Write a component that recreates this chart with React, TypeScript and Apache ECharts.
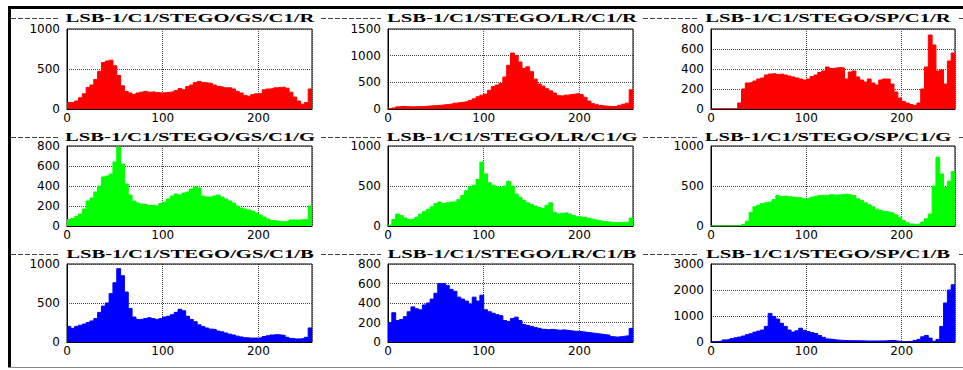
import React, { useEffect, useRef } from "react";
import * as echarts from "echarts";

// Histogram bin width (pixel-value units); each array holds 64 bins covering 0..256
const BIN = 4;
const X_MAX = 256;

const titles = [
  "LSB-1/C1/STEGO/GS/C1/R", "LSB-1/C1/STEGO/LR/C1/R", "LSB-1/C1/STEGO/SP/C1/R",
  "LSB-1/C1/STEGO/GS/C1/G", "LSB-1/C1/STEGO/LR/C1/G", "LSB-1/C1/STEGO/SP/C1/G",
  "LSB-1/C1/STEGO/GS/C1/B", "LSB-1/C1/STEGO/LR/C1/B", "LSB-1/C1/STEGO/SP/C1/B",
];

const gsR = [80, 80, 100, 140, 190, 270, 300, 370, 470, 580, 600, 610, 540, 420, 290, 220,
  200, 180, 200, 210, 220, 210, 215, 205, 200, 205, 210, 215, 230, 255, 240, 280,
  300, 330, 345, 330, 325, 320, 300, 280, 275, 265, 265, 250, 220, 200, 170, 160,
  180, 190, 195, 240, 250, 255, 265, 270, 275, 260, 210, 150, 100, 60, 80, 250];
const lrR = [5, 20, 40, 50, 45, 40, 40, 45, 45, 50, 55, 60, 65, 70, 80, 85,
  95, 110, 120, 130, 140, 160, 190, 230, 260, 280, 350, 420, 450, 480, 600, 820,
  1050, 1000, 880, 760, 790, 700, 560, 470, 430, 380, 340, 300, 250, 240, 260, 270,
  280, 290, 270, 220, 150, 100, 80, 65, 55, 50, 45, 50, 70, 90, 110, 360];
const spR = [0, 0, 0, 0, 0, 0, 0, 60, 200, 260, 265, 280, 300, 310, 340, 350,
  355, 345, 350, 340, 330, 320, 310, 300, 290, 300, 325, 340, 365, 380, 420, 405,
  410, 415, 410, 300, 370, 380, 320, 290, 270, 300, 260, 240, 290, 300, 300, 250,
  170, 110, 75, 60, 45, 35, 60, 200, 420, 740, 640, 380, 390, 250, 480, 560];
const gsG = [65, 75, 95, 120, 170, 250, 280, 340, 400, 490, 500, 520, 640, 790, 620, 420,
  310, 250, 230, 220, 215, 205, 210, 200, 225, 240, 270, 300, 320, 310, 330, 340,
  370, 390, 380, 300, 290, 290, 300, 310, 290, 270, 250, 230, 200, 180, 170, 160,
  150, 130, 110, 90, 70, 55, 50, 45, 45, 50, 60, 60, 60, 65, 60, 200];
const lrG = [10, 80, 150, 130, 100, 80, 80, 110, 150, 180, 210, 240, 280, 300, 280, 290,
  300, 300, 330, 380, 440, 490, 510, 580, 800, 650, 540, 510, 490, 480, 500, 560,
  500, 400, 360, 320, 290, 270, 250, 230, 220, 260, 290, 170, 150, 160, 165, 150,
  130, 115, 110, 110, 95, 85, 75, 65, 55, 50, 45, 40, 45, 45, 50, 100];
const spG = [0, 0, 0, 0, 0, 0, 0, 5, 20, 60, 170, 240, 260, 280, 290, 300,
  330, 380, 370, 375, 365, 360, 355, 350, 340, 345, 360, 370, 380, 385, 380, 390,
  385, 390, 395, 400, 390, 380, 340, 320, 290, 265, 240, 210, 195, 180, 175, 165,
  140, 110, 70, 40, 25, 20, 25, 50, 90, 150, 500, 860, 650, 480, 560, 680];
const gsB = [200, 175, 200, 215, 230, 250, 270, 300, 380, 460, 500, 620, 760, 940, 850, 640,
  430, 320, 290, 290, 300, 310, 300, 290, 300, 320, 330, 350, 380, 420, 400, 330,
  290, 260, 220, 200, 180, 165, 160, 140, 130, 115, 100, 90, 75, 65, 55, 50,
  50, 50, 55, 70, 80, 90, 95, 90, 85, 60, 45, 40, 40, 45, 60, 180];
const lrB = [200, 300, 220, 230, 260, 310, 360, 340, 330, 380, 400, 440, 500, 600, 600, 580,
  540, 520, 460, 440, 420, 390, 460, 420, 480, 330, 310, 295, 280, 270, 220, 210,
  240, 255, 220, 180, 170, 160, 150, 140, 130, 125, 130, 125, 120, 125, 120, 115,
  110, 110, 105, 100, 95, 90, 85, 80, 75, 70, 55, 50, 55, 60, 65, 140];
const spB = [10, 20, 40, 80, 100, 130, 160, 190, 230, 280, 320, 380, 420, 460, 600, 1100,
  980, 880, 720, 600, 460, 380, 430, 530, 450, 400, 360, 330, 250, 180, 120, 100,
  80, 70, 60, 55, 50, 50, 45, 45, 40, 40, 40, 40, 40, 45, 55, 60,
  40, 20, 15, 20, 30, 60, 100, 200, 250, 150, 30, 100, 600, 1500, 2000, 2200];

const seriesValues = [gsR, lrR, spR, gsG, lrG, spG, gsB, lrB, spB];
const yMaxes = [1000, 1500, 800, 800, 1000, 1000, 1000, 800, 3000];
const yIntervals = [500, 500, 200, 200, 500, 500, 500, 200, 1000];
const xTicks = 100;
const rowColors = ["#ff0000", "#00ff00", "#0000ff"];

// layout (pixels)
const colLeft = [67, 388, 711];
const colWidth = [245, 245, 244];
const rowTop = [29, 146, 264];
const rowHeight = [80, 80, 78];
const titleY = [18, 137, 254];
const titleCX = [190, 512, 828];
const TITLE_HALF = 128;

function stepData(vals: number[]) {
  const d: number[][] = vals.map((v, i) => [i * BIN, v]);
  d.push([vals.length * BIN, vals[vals.length - 1]]);
  return d;
}

export default function App() {
  const ref = useRef<HTMLDivElement>(null);
  useEffect(() => {
    if (!ref.current) return;
    const chart = echarts.init(ref.current, undefined, { renderer: "svg" });
    const grids: any[] = [];
    const xAxes: any[] = [];
    const yAxes: any[] = [];
    const series: any[] = [];
    const graphics: any[] = [];
    const axisFont = {
      fontFamily: "DejaVu Sans", fontSize: 12, color: "#000",
      formatter: (v: number) => String(v),
    };
    for (let k = 0; k < 9; k++) {
      const r = Math.floor(k / 3);
      const c = k % 3;
      grids.push({
        left: colLeft[c], top: rowTop[r], width: colWidth[c], height: rowHeight[r],
        show: true, borderColor: "#000", borderWidth: 1, backgroundColor: "#fff",
      });
      xAxes.push({
        type: "value", gridIndex: k, min: 0, max: X_MAX, interval: xTicks,
        axisLine: { show: true, lineStyle: { color: "#000", width: 1 } },
        axisTick: { show: false },
        axisLabel: { ...axisFont, margin: 3, showMaxLabel: false },
        splitLine: { show: true, lineStyle: { type: "dotted", color: "#444", width: 1 } },
      });
      yAxes.push({
        type: "value", gridIndex: k, min: 0, max: yMaxes[k], interval: yIntervals[k],
        axisLine: { show: true, lineStyle: { color: "#000", width: 1 } },
        axisTick: { show: false },
        axisLabel: { ...axisFont, margin: 7 },
        splitLine: { show: true, lineStyle: { type: "dotted", color: "#444", width: 1 } },
      });
      series.push({
        type: "line", xAxisIndex: k, yAxisIndex: k, step: "end", symbol: "none",
        data: stepData(seriesValues[k]),
        lineStyle: { color: rowColors[r], width: 1 },
        areaStyle: { color: rowColors[r], opacity: 1 },
        itemStyle: { color: rowColors[r] },
        clip: true,
      });
      graphics.push({
        type: "text", x: titleCX[c], y: titleY[r], scaleX: 1.72,
        style: {
          text: titles[k], font: 'bold 12px "Liberation Serif"', fill: "#000",
          align: "center", verticalAlign: "middle",
        },
        z: 10,
      });
    }
    // separator lines between titles
    for (let r = 0; r < 3; r++) {
      const xs = [11];
      for (let c = 0; c < 3; c++) {
        xs.push(titleCX[c] - TITLE_HALF - 3);
        xs.push(titleCX[c] + TITLE_HALF + 3);
      }
      xs.push(963);
      for (let s = 0; s < xs.length; s += 2) {
        if (xs[s + 1] > xs[s]) {
          graphics.push({
            type: "line",
            shape: { x1: xs[s], y1: titleY[r] + 0.5, x2: xs[s + 1], y2: titleY[r] + 0.5 },
            style: { stroke: "#444", lineWidth: 1, lineDash: [5, 2] },
          });
        }
      }
    }
    // outer frame
    graphics.push({ type: "rect", shape: { x: 8, y: 6, width: 955, height: 3 }, style: { fill: "#000" } });
    graphics.push({ type: "rect", shape: { x: 8, y: 6, width: 3, height: 362 }, style: { fill: "#000" } });
    graphics.push({ type: "rect", shape: { x: 8, y: 367, width: 955, height: 1 }, style: { fill: "#888" } });

    chart.setOption({
      animation: false,
      backgroundColor: "#fff",
      grid: grids,
      xAxis: xAxes,
      yAxis: yAxes,
      series,
      graphic: graphics,
    });
    return () => chart.dispose();
  }, []);
  return (
    <div
      ref={ref}
      style={{ position: "fixed", left: 0, top: 0, width: 963, height: 370, background: "#fff" }}
    />
  );
}
